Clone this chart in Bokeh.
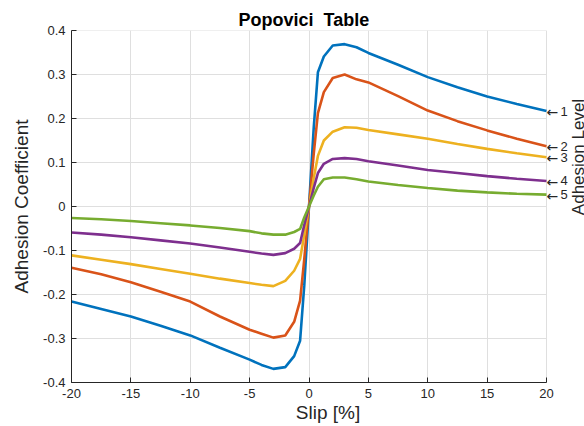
import math
from bokeh.plotting import figure
from bokeh.models import ColumnDataSource, FixedTicker
from bokeh.core.properties import value
from bokeh.embed import file_html
from bokeh.resources import INLINE

# ---- data ----
slip = [-20, -17.5, -15, -12.5, -10, -7.5, -5, -4, -3, -2, -1.25, -0.75, -0.4,
        0, 0.4, 0.75, 1.25, 2, 3, 4, 5, 7.5, 10, 12.5, 15, 17.5, 20]

level1 = [-0.216, -0.233, -0.250, -0.271, -0.293, -0.321, -0.348, -0.360, -0.369, -0.365, -0.340, -0.305, -0.180,
          0.0, 0.180, 0.305, 0.341, 0.366, 0.369, 0.362, 0.349, 0.322, 0.294, 0.271, 0.250, 0.233, 0.217]
level2 = [-0.139, -0.154, -0.172, -0.194, -0.216, -0.250, -0.280, -0.289, -0.298, -0.293, -0.262, -0.214, -0.120,
          0.0, 0.120, 0.212, 0.260, 0.292, 0.300, 0.289, 0.282, 0.251, 0.218, 0.194, 0.173, 0.154, 0.137]
level3 = [-0.111, -0.121, -0.131, -0.142, -0.153, -0.164, -0.174, -0.178, -0.181, -0.169, -0.146, -0.119, -0.065,
          0.0, 0.065, 0.115, 0.150, 0.170, 0.180, 0.179, 0.174, 0.164, 0.154, 0.142, 0.131, 0.121, 0.112]
level4 = [-0.059, -0.064, -0.070, -0.077, -0.084, -0.093, -0.103, -0.107, -0.110, -0.106, -0.096, -0.083, -0.042,
          0.0, 0.042, 0.076, 0.097, 0.108, 0.110, 0.108, 0.103, 0.093, 0.083, 0.076, 0.069, 0.063, 0.058]
level5 = [-0.026, -0.029, -0.033, -0.038, -0.043, -0.049, -0.056, -0.061, -0.064, -0.064, -0.058, -0.051, -0.025,
          0.0, 0.025, 0.045, 0.062, 0.066, 0.066, 0.062, 0.057, 0.049, 0.042, 0.036, 0.032, 0.029, 0.027]

level_names = ["1", "2", "3", "4", "5"]
x_ticks = [-20, -15, -10, -5, 0, 5, 10, 15, 20]
x_tick_labels = ["-20", "-15", "-10", "-5", "0", "5", "10", "15", "20"]
y_ticks = [-0.4, -0.3, -0.2, -0.1, 0, 0.1, 0.2, 0.3, 0.4]
y_tick_labels = ["-0.4", "-0.3", "-0.2", "-0.1", "0", "0.1", "0.2", "0.3", "0.4"]

colors = ["#0072BD", "#D95319", "#EDB120", "#7E2F8E", "#77AC30"]
FONT = "Liberation Sans"
DARK = "#262626"
GRID = "#dfdfdf"

# frame: x -20..20 over 475 px, extended to the right edge so the side labels are drawable
px_per_unit = 475 / 40.0
x_end = x_ticks[-1] + 38 / px_per_unit

p = figure(width=584, height=426, output_backend="svg", toolbar_location=None,
           x_range=(x_ticks[0], x_end), y_range=(y_ticks[0], y_ticks[-1]),
           min_border_left=71, min_border_right=0, min_border_top=30, min_border_bottom=44,
           title="Popovici\u00a0\u00a0Table")
p.outline_line_color = None
p.background_fill_color = "white"
p.border_fill_color = "white"

p.title.align = "left"
p.title.offset = 167
p.title.text_font = FONT
p.title.text_font_size = "18px"
p.title.text_font_style = "bold"
p.title.text_color = "black"
p.title.standoff = 2

# horizontal grid lines limited to the data box
p.ygrid.grid_line_color = None
p.segment(x0=[x_ticks[0]] * len(y_ticks), x1=[x_ticks[-1]] * len(y_ticks),
          y0=y_ticks, y1=y_ticks, line_color=GRID, line_width=1, level="underlay")
p.xgrid.grid_line_color = GRID

series = [level1, level2, level3, level4, level5]
data = {"slip": slip}
for i, s in enumerate(series):
    data[f"l{i}"] = s
src = ColumnDataSource(data)
for i, s in enumerate(series):
    p.line("slip", f"l{i}", source=src, line_color=colors[i], line_width=2.6)

for ax in (p.xaxis[0], p.yaxis[0]):
    ax.axis_line_color = DARK
    ax.major_tick_line_color = DARK
    ax.minor_tick_line_color = None
    ax.major_tick_in = 5
    ax.major_tick_out = 0
    ax.major_label_text_font = FONT
    ax.major_label_text_font_size = "13px"
    ax.major_label_text_color = DARK
    ax.axis_label_text_font = FONT
    ax.axis_label_text_font_size = "19px"
    ax.axis_label_text_font_style = "normal"
    ax.axis_label_text_color = DARK

p.xaxis.bounds = (x_ticks[0], x_ticks[-1])
p.xaxis.ticker = FixedTicker(ticks=x_ticks)
p.xaxis.major_label_overrides = dict(zip(x_ticks, x_tick_labels))
p.yaxis.ticker = FixedTicker(ticks=y_ticks)
p.yaxis.major_label_overrides = dict(zip(y_ticks, y_tick_labels))
p.xaxis.axis_label = "Slip [%]"
p.yaxis.axis_label = "Adhesion Coefficient"
p.xaxis.major_label_standoff = 6
p.yaxis.major_label_standoff = 6
p.xaxis.axis_label_standoff = 1
p.yaxis.axis_label_standoff = 8

# level markers at the right end of each curve: an arrow, then the level number
lab_src = ColumnDataSource(dict(
    x=[slip[-1]] * len(series),
    y=[s[-1] for s in series],
    arrow=["\u2190"] * len(series),
    t=level_names,
))
p.text(x="x", y="y", text="arrow", source=lab_src, x_offset=0, y_offset=1,
       text_baseline="middle", text_align="left",
       text_font=value("DejaVu Sans"), text_font_size=value("14px"), text_color=DARK)
p.text(x="x", y="y", text="t", source=lab_src, x_offset=14,
       text_baseline="middle", text_align="left",
       text_font=value(FONT), text_font_size=value("13px"), text_color=DARK)

p.text(x=[slip[-1]], y=[0.1125], text=["Adhesion Level"], x_offset=32,
       angle=math.pi / 2, text_align="center", text_baseline="middle",
       text_font=value(FONT), text_font_size=value("17px"), text_color=DARK)

open("out.html", "w").write(file_html(p, INLINE))
